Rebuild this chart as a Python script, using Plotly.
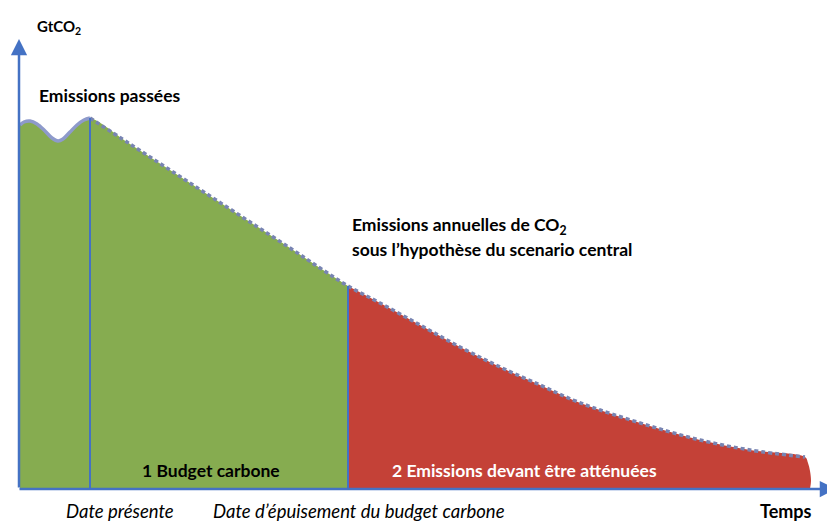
import plotly.graph_objects as go

# Schematic data (time in arbitrary units, emissions in arbitrary GtCO2 units)
past_t = [20, 24, 30, 37, 45, 52, 58, 63, 70, 77, 84, 90]
past_e = [364, 367, 368, 365, 358, 351, 348, 350, 357, 364, 369, 371]

budget_t = [90, 130, 170, 210, 250, 290, 320, 348]
budget_e = [371, 345, 319, 293, 267, 241, 221, 203]

mitig_t = [348, 380, 420, 460, 500, 540, 573, 600, 650, 700, 750, 805]
mitig_e = [203, 186, 164, 142, 122, 104, 89, 79, 63, 49, 39, 32]
edge_t = [805, 808, 810, 811, 810]
edge_e = [32, 26, 18, 8, 0]

present_t = 90
exhaust_t = 348

GREEN = "#86AC50"
RED = "#C44137"
BLUE = "#4472C4"
FONT = "Lato"

fig = go.Figure()

fig.add_trace(go.Scatter(x=past_t + budget_t[1:], y=past_e + budget_e[1:],
                         fill="tozeroy", fillcolor=GREEN, mode="lines",
                         line=dict(width=0, color=GREEN, shape="spline"), hoverinfo="skip"))
fig.add_trace(go.Scatter(x=mitig_t + edge_t[1:], y=mitig_e + edge_e[1:],
                         fill="tozeroy", fillcolor=RED, mode="lines",
                         line=dict(width=0, color=RED, shape="spline"), hoverinfo="skip"))
fig.add_trace(go.Scatter(x=past_t, y=past_e, mode="lines",
                         line=dict(width=3.5, color="#8E9ACB", shape="spline"), hoverinfo="skip"))
fig.add_trace(go.Scatter(x=budget_t + mitig_t[1:], y=budget_e + mitig_e[1:], mode="lines",
                         line=dict(width=3.5, color="#7884B2", dash="4px,3px", shape="spline"),
                         hoverinfo="skip"))

shapes = [
    dict(type="line", x0=present_t, x1=present_t, y0=0, y1=past_e[-1],
         line=dict(color=BLUE, width=2), xref="x", yref="y"),
    dict(type="line", x0=exhaust_t, x1=exhaust_t, y0=0, y1=budget_e[-1],
         line=dict(color=BLUE, width=2), xref="x", yref="y"),
]

BIG = 17.5
ITAL = 18.5
annotations = [
    dict(x=19, y=450, ax=19, ay=0, xref="x", yref="y", axref="x", ayref="y",
         showarrow=True, arrowhead=2, arrowsize=1.3, arrowwidth=2.5, arrowcolor=BLUE, text=""),
    dict(x=836, y=0, ax=18, ay=0, xref="x", yref="y", axref="x", ayref="y",
         showarrow=True, arrowhead=2, arrowsize=1.3, arrowwidth=2.5, arrowcolor=BLUE, text=""),
    dict(x=35, y=462, xref="x", yref="y", text="<b>GtCO<sub>2</sub></b>", showarrow=False,
         xanchor="left", yanchor="middle", font=dict(family=FONT, size=15, color="black")),
    dict(x=37, y=394, xref="x", yref="y", text="<b>Emissions passées</b>", showarrow=False,
         xanchor="left", yanchor="middle", font=dict(family=FONT, size=BIG, color="black")),
    dict(x=350, y=263, xref="x", yref="y", text="<b>Emissions annuelles de CO<sub>2</sub></b>",
         showarrow=False, xanchor="left", yanchor="middle",
         font=dict(family=FONT, size=BIG, color="black")),
    dict(x=350, y=240, xref="x", yref="y", text="<b>sous l’hypothèse du scenario central</b>",
         showarrow=False, xanchor="left", yanchor="middle",
         font=dict(family=FONT, size=BIG, color="black")),
    dict(x=211, y=19, xref="x", yref="y", text="<b>1 Budget carbone</b>", showarrow=False,
         xanchor="center", yanchor="middle", font=dict(family=FONT, size=BIG, color="black")),
    dict(x=390, y=19, xref="x", yref="y", text="<b>2 Emissions devant être atténuées</b>",
         showarrow=False, xanchor="left", yanchor="middle",
         font=dict(family=FONT, size=BIG, color="white")),
    dict(x=119.5, y=-22, xref="x", yref="y", text="<i>Date présente</i>", showarrow=False,
         xanchor="center", yanchor="middle", font=dict(family=FONT, size=ITAL, color="black")),
    dict(x=358.5, y=-22, xref="x", yref="y", text="<i>Date d’épuisement du budget carbone</i>",
         showarrow=False, xanchor="center", yanchor="middle",
         font=dict(family=FONT, size=ITAL, color="black")),
    dict(x=786, y=-22, xref="x", yref="y", text="<b>Temps</b>", showarrow=False,
         xanchor="center", yanchor="middle", font=dict(family=FONT, size=18, color="black")),
]

# The page places the figure 8px from the top-left corner, so the visible
# window covers x 8..835 and y 8..521 in reference pixel terms.
fig.update_layout(
    width=827, height=513,
    margin=dict(l=0, r=0, t=0, b=0),
    paper_bgcolor="white", plot_bgcolor="white",
    showlegend=False,
    xaxis=dict(range=[8, 835], visible=False, fixedrange=True),
    yaxis=dict(range=[-32, 481], visible=False, fixedrange=True),
    shapes=shapes, annotations=annotations,
)

fig.write_html("out.html")
